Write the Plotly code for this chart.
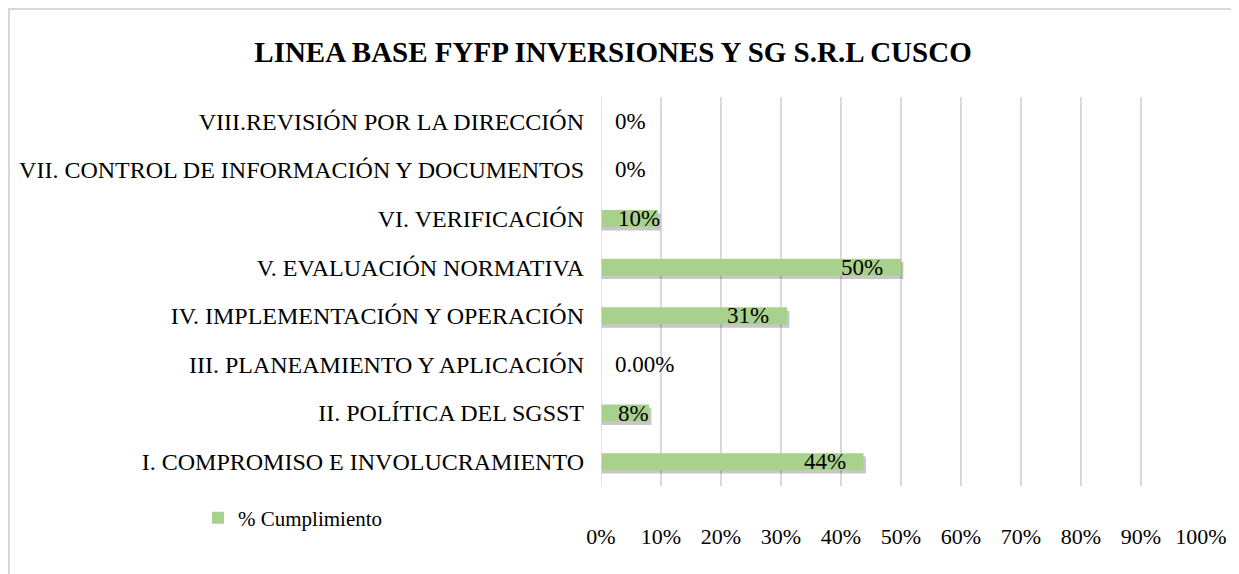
import plotly.graph_objects as go

categories = [
    "I. COMPROMISO E INVOLUCRAMIENTO",
    "II. POLÍTICA DEL SGSST",
    "III. PLANEAMIENTO Y APLICACIÓN",
    "IV. IMPLEMENTACIÓN Y OPERACIÓN",
    "V. EVALUACIÓN NORMATIVA",
    "VI. VERIFICACIÓN",
    "VII. CONTROL DE INFORMACIÓN Y DOCUMENTOS",
    "VIII.REVISIÓN POR LA DIRECCIÓN",
]
cumplimiento = [0.4375, 0.08, 0.0, 0.31, 0.50, 0.095, 0.0, 0.0]
label_decimals = [0, 0, 2, 0, 0, 0, 0, 0]
series_name = "% Cumplimiento"
title = "LINEA BASE FYFP INVERSIONES Y SG S.R.L CUSCO"
x_ticks = [i / 10 for i in range(11)]

FONT = "Liberation Serif"
GREEN = "#A9D18E"
W, H = 1231, 566
L, R, T, B = 593, 38, 89, 88
PW, PH = W - L - R, H - T - B

fig = go.Figure()
# soft shadow
fig.add_trace(go.Bar(
    y=categories, x=[v + 0.004 if v > 0 else 0 for v in cumplimiento],
    orientation="h", width=0.35, offset=-0.175 - 0.07,
    marker=dict(color="rgba(0,0,0,0.22)", line=dict(width=0)),
    showlegend=False, hoverinfo="skip",
))
fig.add_trace(go.Bar(
    y=categories, x=cumplimiento, orientation="h", name=series_name,
    width=0.35, offset=-0.175,
    marker=dict(color=GREEN, line=dict(width=0)),
))

for cat, v, d in zip(categories, cumplimiento, label_decimals):
    txt = f"{v*100:.{d}f}%"
    lf = dict(family=FONT, size=23, color="black")
    if v > 0.2:
        fig.add_annotation(x=v, y=cat, text=txt, xanchor="right", xshift=-16,
                           showarrow=False, font=lf)
    elif v > 0:
        fig.add_annotation(x=0, y=cat, text=txt, xanchor="left", xshift=15,
                           showarrow=False, font=lf)
    else:
        fig.add_annotation(x=0, y=cat, text=txt, xanchor="left", xshift=12,
                           showarrow=False, font=lf)

fig.update_layout(
    width=W, height=H,
    margin=dict(l=L, r=R, t=T, b=B),
    paper_bgcolor="white", plot_bgcolor="white",
    barmode="overlay",
    title=dict(text=f"<b>{title}</b>", x=605 / W, xanchor="center",
               y=1 - 44 / H, yanchor="middle",
               font=dict(family=FONT, size=29, color="black")),
    font=dict(family=FONT, size=22, color="black"),
    showlegend=True,
    legend=dict(x=(190 - L) / PW, xanchor="left", y=-32 / PH, yanchor="middle",
                font=dict(family=FONT, size=21, color="black"),
                bgcolor="rgba(0,0,0,0)"),
    xaxis=dict(range=[0, 1], tickvals=x_ticks, tickformat=".0%",
               showgrid=True, gridcolor="#D9D9D9", gridwidth=1.5,
               zeroline=False, showline=False, ticks="",
               ticklabelstandoff=35, tickfont=dict(family=FONT, size=22)),
    yaxis=dict(range=[-0.5, 7.5], showgrid=False, zeroline=False,
               showline=False, ticks="", ticklabelstandoff=16,
               tickfont=dict(family=FONT, size=24)),
    shapes=[
        dict(type="line", xref="x", yref="paper", x0=0, x1=0, y0=0, y1=1,
             line=dict(color="#D9D9D9", width=1.5)),
        dict(type="rect", xref="paper", yref="paper",
             x0=(1 - L) / PW, x1=(1400 - L) / PW,
             y0=(T + PH - 700) / PH, y1=(T + PH - 1) / PH,
             line=dict(color="#D9D9D9", width=2), fillcolor="rgba(0,0,0,0)",
             layer="below"),
    ],
)

fig.write_html("out.html")
